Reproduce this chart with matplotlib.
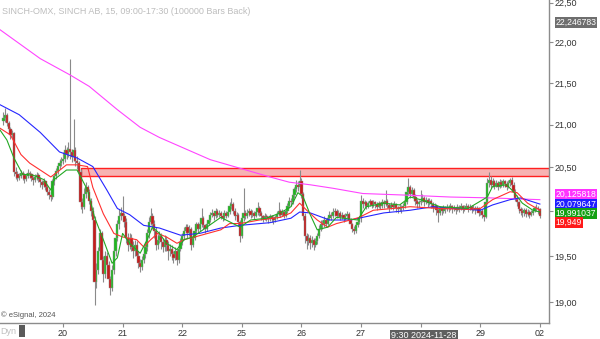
import numpy as np
import matplotlib
matplotlib.use('Agg')
import matplotlib.pyplot as plt
from matplotlib.ticker import FixedLocator, FuncFormatter, NullLocator
from matplotlib.transforms import blended_transform_factory

plt.rcParams['font.family'] = ['Liberation Sans', 'DejaVu Sans']

title = 'SINCH-OMX, SINCH AB, 15, 09:00-17:30 (100000 Bars Back)'

# sessions (15 min bars, 34 per session)
sessions = ['19', '20', '21', '22', '25', '26', '27', '28', '29', '02']
bars_per_day = 34
first_open = 21.05

# ---- closes, one row per half session ----
closes = [
    21.08, 21.12, 21.02, 20.95, 20.88, 20.90, 20.45, 20.42, 20.38, 20.40, 20.43, 20.41, 20.37, 20.40, 20.44, 20.42, 20.38,
    20.35, 20.39, 20.41, 20.37, 20.33, 20.30, 20.34, 20.28, 20.22, 20.18, 20.16, 20.34, 20.40, 20.46, 20.52, 20.55, 20.58,
    20.60, 20.70, 20.66, 20.72, 20.68, 20.62, 20.70, 20.58, 20.55, 20.45, 20.10, 20.05, 20.20, 20.28, 20.22, 20.12, 20.00,
    19.90, 19.22, 19.35, 19.55, 19.75, 19.45, 19.30, 19.50, 19.40, 19.25, 19.15, 19.35, 19.55, 19.70, 19.85, 19.95, 19.98,
    19.95, 19.88, 19.70, 19.62, 19.70, 19.60, 19.55, 19.62, 19.50, 19.42, 19.38, 19.45, 19.52, 19.60, 19.75, 19.88, 19.95,
    19.85, 19.78, 19.62, 19.68, 19.72, 19.65, 19.60, 19.68, 19.62, 19.55, 19.58, 19.52, 19.48, 19.55, 19.45, 19.58, 19.65,
    19.72, 19.78, 19.82, 19.75, 19.80, 19.62, 19.70, 19.78, 19.85, 19.80, 19.86, 19.92, 19.84, 19.80, 19.86, 19.90, 19.96,
    19.98, 19.94, 20.00, 19.96, 19.98, 19.95, 19.92, 19.98, 19.95, 19.99, 20.06, 20.08, 20.00, 19.94, 19.96, 19.88, 19.72,
    19.92, 19.98, 19.95, 19.98, 20.00, 19.96, 19.98, 19.95, 19.99, 20.04, 19.98, 19.94, 19.92, 19.95, 19.93, 19.91, 19.94,
    19.92, 19.90, 19.93, 19.97, 20.00, 19.96, 19.99, 19.95, 20.00, 20.06, 20.12, 20.10, 20.18, 20.25, 20.30, 20.28, 20.34,
    20.20, 19.95, 19.72, 19.66, 19.70, 19.64, 19.68, 19.62, 19.66, 19.72, 19.80, 19.86, 19.84, 19.90, 19.86, 19.92, 19.96,
    19.94, 19.99, 20.00, 19.95, 19.98, 19.93, 19.96, 19.92, 19.95, 19.97, 19.90, 19.85, 19.80, 19.78, 19.84, 19.88, 19.92,
    20.12, 20.08, 20.10, 20.06, 20.09, 20.11, 20.07, 20.10, 20.08, 20.05, 20.09, 20.06, 20.10, 20.08, 20.12, 20.07, 20.04,
    20.07, 20.05, 20.08, 20.04, 20.02, 20.05, 20.03, 20.06, 20.10, 20.22, 20.28, 20.20, 20.24, 20.16, 20.12, 20.08, 20.10,
    20.12, 20.15, 20.10, 20.13, 20.09, 20.12, 20.08, 20.04, 20.06, 20.01, 19.98, 20.03, 20.00, 20.04, 20.02, 20.05, 20.03,
    20.06, 20.02, 20.04, 20.01, 20.05, 20.03, 20.06, 20.02, 20.04, 20.06, 20.03, 20.05, 20.02, 20.04, 20.01, 20.03, 19.98,
    20.00, 19.96, 19.93, 20.10, 20.32, 20.36, 20.30, 20.34, 20.29, 20.32, 20.28, 20.33, 20.30, 20.34, 20.31, 20.28, 20.32,
    20.35, 20.30, 20.22, 20.15, 20.10, 20.02, 20.00, 19.98, 20.01, 19.97, 19.99, 19.96, 19.98, 20.00, 20.03, 20.04, 20.02,
    19.95,
]

highs = [
    21.15, 21.20, 21.14, 21.05, 20.97, 20.94, 20.92, 20.50, 20.46, 20.44, 20.47, 20.46, 20.43, 20.43, 20.48, 20.46, 20.44,
    20.40, 20.42, 20.45, 20.43, 20.39, 20.35, 20.38, 20.36, 20.30, 20.25, 20.22, 20.37, 20.44, 20.49, 20.55, 20.60, 20.62,
    20.68, 20.76, 20.74, 20.80, 21.80, 20.72, 21.07, 20.74, 20.63, 20.58, 20.48, 20.15, 20.26, 20.33, 20.30, 20.25, 20.15,
    20.05, 19.95, 19.42, 19.60, 19.80, 19.78, 19.50, 19.56, 19.54, 19.44, 19.28, 19.40, 19.60, 19.75, 19.90, 20.02, 20.05,
    20.17, 19.98, 19.92, 19.75, 19.76, 19.74, 19.66, 19.68, 19.66, 19.55, 19.47, 19.50, 19.58, 19.65, 19.80, 19.93, 20.04,
    19.98, 19.90, 19.82, 19.74, 19.78, 19.76, 19.70, 19.73, 19.72, 19.66, 19.63, 19.62, 19.56, 19.60, 19.58, 19.63, 19.70,
    19.76, 19.82, 19.86, 19.85, 19.84, 19.82, 19.74, 19.82, 19.88, 19.88, 19.90, 20.03, 19.94, 19.86, 19.89, 19.93, 19.99,
    20.02, 20.00, 20.03, 20.02, 20.01, 20.00, 19.97, 20.01, 20.00, 20.03, 20.10, 20.15, 20.10, 20.03, 19.99, 19.98, 19.90,
    19.96, 20.26, 20.01, 20.02, 20.04, 20.02, 20.01, 20.00, 20.02, 20.10, 20.06, 20.00, 19.96, 19.98, 19.97, 19.95, 19.97,
    19.96, 19.94, 19.96, 20.00, 20.10, 20.02, 20.02, 20.01, 20.04, 20.09, 20.16, 20.15, 20.21, 20.28, 20.36, 20.34, 20.47,
    20.38, 20.22, 19.98, 19.76, 19.74, 19.73, 19.72, 19.70, 19.70, 19.76, 19.84, 19.90, 19.90, 19.94, 19.92, 19.95, 20.00,
    19.99, 20.03, 20.04, 20.02, 20.01, 20.00, 19.99, 19.97, 19.98, 20.00, 19.99, 19.92, 19.87, 19.83, 19.87, 19.91, 19.95,
    20.18, 20.15, 20.13, 20.12, 20.12, 20.14, 20.13, 20.13, 20.12, 20.10, 20.12, 20.10, 20.14, 20.13, 20.24, 20.14, 20.09,
    20.10, 20.09, 20.11, 20.09, 20.06, 20.08, 20.07, 20.09, 20.15, 20.26, 20.38, 20.30, 20.28, 20.26, 20.19, 20.14, 20.13,
    20.24, 20.19, 20.17, 20.16, 20.15, 20.15, 20.14, 20.10, 20.09, 20.08, 20.04, 20.06, 20.05, 20.07, 20.06, 20.08, 20.07,
    20.09, 20.07, 20.07, 20.05, 20.08, 20.07, 20.09, 20.07, 20.07, 20.09, 20.08, 20.08, 20.07, 20.07, 20.06, 20.06, 20.05,
    20.04, 20.02, 19.98, 20.14, 20.38, 20.45, 20.40, 20.38, 20.36, 20.36, 20.34, 20.37, 20.36, 20.37, 20.36, 20.34, 20.35,
    20.38, 20.39, 20.33, 20.25, 20.18, 20.12, 20.05, 20.03, 20.04, 20.03, 20.02, 20.01, 20.01, 20.03, 20.06, 20.08, 20.06,
    20.04,
]

lows = [
    21.00, 21.03, 20.98, 20.90, 20.83, 20.84, 20.40, 20.37, 20.34, 20.35, 20.38, 20.36, 20.32, 20.34, 20.38, 20.38, 20.34,
    20.30, 20.33, 20.36, 20.33, 20.28, 20.25, 20.27, 20.24, 20.18, 20.14, 20.12, 20.14, 20.30, 20.37, 20.42, 20.48, 20.52,
    20.54, 20.56, 20.60, 20.62, 20.60, 20.56, 20.58, 20.52, 20.48, 20.40, 20.02, 19.98, 20.02, 20.15, 20.16, 20.08, 19.95,
    19.85, 18.97, 19.15, 19.30, 19.50, 19.38, 19.22, 19.26, 19.33, 19.18, 19.07, 19.12, 19.30, 19.50, 19.66, 19.80, 19.90,
    19.90, 19.82, 19.64, 19.56, 19.58, 19.55, 19.48, 19.50, 19.45, 19.37, 19.32, 19.35, 19.42, 19.48, 19.55, 19.70, 19.84,
    19.80, 19.70, 19.57, 19.58, 19.64, 19.58, 19.54, 19.56, 19.56, 19.46, 19.50, 19.46, 19.42, 19.45, 19.40, 19.42, 19.55,
    19.62, 19.68, 19.75, 19.70, 19.72, 19.57, 19.60, 19.68, 19.76, 19.76, 19.78, 19.82, 19.80, 19.76, 19.78, 19.84, 19.88,
    19.93, 19.90, 19.92, 19.93, 19.93, 19.91, 19.89, 19.90, 19.92, 19.93, 19.97, 20.02, 19.97, 19.90, 19.91, 19.84, 19.65,
    19.70, 19.89, 19.91, 19.92, 19.95, 19.92, 19.93, 19.91, 19.93, 19.96, 19.94, 19.90, 19.88, 19.90, 19.89, 19.87, 19.89,
    19.88, 19.86, 19.88, 19.91, 19.94, 19.93, 19.94, 19.92, 19.93, 19.98, 20.04, 20.06, 20.08, 20.15, 20.22, 20.23, 20.25,
    20.15, 19.90, 19.64, 19.58, 19.62, 19.58, 19.60, 19.57, 19.60, 19.63, 19.70, 19.78, 19.80, 19.82, 19.83, 19.84, 19.90,
    19.90, 19.92, 19.95, 19.92, 19.93, 19.90, 19.91, 19.88, 19.90, 19.92, 19.87, 19.82, 19.77, 19.74, 19.76, 19.82, 19.86,
    19.88, 20.04, 20.05, 20.02, 20.04, 20.06, 20.03, 20.05, 20.04, 20.01, 20.03, 20.02, 20.04, 20.04, 20.06, 20.03, 19.99,
    20.02, 20.01, 20.03, 19.99, 19.98, 20.00, 19.98, 20.01, 20.04, 20.08, 20.18, 20.15, 20.17, 20.12, 20.07, 20.04, 20.05,
    20.07, 20.10, 20.06, 20.08, 20.05, 20.07, 20.04, 19.99, 20.02, 19.96, 19.88, 19.96, 19.96, 19.98, 19.98, 20.00, 19.99,
    20.01, 19.98, 20.00, 19.97, 20.00, 19.99, 20.01, 19.98, 20.00, 20.02, 19.99, 20.01, 19.98, 20.00, 19.97, 19.99, 19.94,
    19.96, 19.92, 19.89, 19.92, 20.08, 20.28, 20.26, 20.27, 20.25, 20.27, 20.24, 20.26, 20.27, 20.28, 20.27, 20.24, 20.26,
    20.29, 20.26, 20.18, 20.12, 20.06, 19.98, 19.96, 19.93, 19.95, 19.93, 19.95, 19.92, 19.94, 19.96, 19.99, 20.00, 19.97,
    19.92,
]

# ---- moving averages (bar index, price) ----
ma200_bar = [-2, 21, 38, 49, 65, 78, 89, 118, 135, 152, 163, 175, 188, 205, 232, 255, 278, 306]
ma200_val = [22.16, 21.80, 21.60, 21.46, 21.18, 20.97, 20.85, 20.59, 20.49, 20.39, 20.33, 20.30, 20.26, 20.20, 20.18,
             20.16, 20.15, 20.13]

ma50_bar = [-2, 9, 21, 32, 42, 51, 59, 65, 72, 80, 89, 101, 112, 124, 135, 152, 164, 169, 175, 186, 198, 205, 217,
            232, 245, 272, 279, 289, 295, 306]
ma50_val = [21.24, 21.12, 20.91, 20.68, 20.61, 20.51, 20.24, 20.03, 19.96, 19.84, 19.81, 19.73, 19.75, 19.81, 19.84,
            19.87, 19.92, 19.99, 19.98, 19.90, 19.90, 19.93, 19.98, 20.01, 20.05, 20.01, 20.07, 20.13, 20.15, 20.08]

ma20_bar = [-2, 4, 10, 15, 21, 27, 31, 36, 42, 48, 51, 57, 63, 68, 76, 80, 84, 88, 93, 99, 103, 111, 124, 129, 135,
            146, 158, 164, 169, 173, 179, 185, 190, 198, 203, 211, 222, 232, 249, 265, 272, 279, 289, 293, 299, 306]
ma20_val = [20.96, 20.88, 20.65, 20.55, 20.47, 20.39, 20.45, 20.53, 20.53, 20.51, 20.27, 19.97, 19.75, 19.71, 19.68,
            19.60, 19.68, 19.75, 19.71, 19.64, 19.68, 19.72, 19.79, 19.86, 19.86, 19.90, 19.93, 19.98, 20.09, 20.01,
            19.90, 19.82, 19.86, 19.90, 19.93, 20.01, 20.03, 20.05, 20.03, 20.02, 20.03, 20.13, 20.22, 20.21, 20.09,
            20.01]

ma10_bar = [-2, 2, 6, 11, 17, 23, 27, 29, 36, 42, 48, 52, 57, 62, 65, 68, 72, 78, 82, 85, 89, 93, 99, 103, 108, 116,
            124, 129, 135, 141, 150, 158, 164, 168, 171, 175, 179, 185, 190, 202, 207, 217, 226, 232, 238, 249, 265,
            276, 279, 287, 291, 296, 302, 306]
ma10_val = [20.94, 20.82, 20.61, 20.42, 20.41, 20.36, 20.24, 20.36, 20.47, 20.47, 20.24, 19.93, 19.68, 19.42, 19.48,
            19.75, 19.64, 19.53, 19.68, 19.82, 19.75, 19.64, 19.57, 19.68, 19.71, 19.82, 19.93, 19.88, 19.82, 19.90,
            19.92, 19.98, 20.05, 20.21, 20.16, 19.96, 19.79, 19.82, 19.93, 19.90, 20.05, 20.09, 20.07, 20.16, 20.13,
            20.05, 20.03, 20.16, 20.28, 20.30, 20.22, 20.09, 20.01, 19.99]

zone_low, zone_high = 20.40, 20.49
zone_start_bar = 44.5

# price tags on the right axis (stacked, so placed a bit apart)
tag_texts = ['22,246783', '20,125818', '20,079647', '19,991037', '19,949']
tag_values = [22.246783, 20.19, 20.08, 19.975, 19.872]
tag_colors = ['#6e6e6e', '#ff33ff', '#1f1fff', '#14a014', '#ff1a1a']

cursor_text = '9:30 2024-11-28'
cursor_bar = 240

# ---------------------------------------------------------------------------

closes = np.array(closes)
highs = np.array(highs)
lows = np.array(lows)
opens = np.concatenate([[first_open], closes[:-1]])
idx = np.arange(len(closes))

fig = plt.figure(figsize=(6.0, 3.39), dpi=100)
ax = fig.add_axes([0.0, 16 / 339, 549 / 600, 323 / 339])
ax.set_yscale('log')
ax.set_xlim(-1.94, 311.2)
ax.set_ylim(18.775, 22.534)

# resistance zone
ax.add_patch(plt.Rectangle((zone_start_bar, zone_low), 400, zone_high - zone_low,
                           facecolor='#f7b3b3', edgecolor='#ff2020', linewidth=1.0, zorder=1))

# candles
up = closes >= opens
ax.vlines(idx, lows, highs, color='#8a8a8a', linewidth=0.8, zorder=2)
bottoms = np.minimum(opens, closes)
heights = np.maximum(np.abs(closes - opens), 0.008)
ax.bar(idx[up], heights[up], bottom=bottoms[up], width=1.3, color='#1fb81f',
       edgecolor='#909090', linewidth=0.3, zorder=3)
ax.bar(idx[~up], heights[~up], bottom=bottoms[~up], width=1.3, color='#c41c1c',
       edgecolor='#909090', linewidth=0.3, zorder=3)

# moving averages
ax.plot(ma200_bar, ma200_val, color='#ff44ff', linewidth=0.8, zorder=4)
ax.plot(ma50_bar, ma50_val, color='#2626ff', linewidth=0.8, zorder=4)
ax.plot(ma20_bar, ma20_val, color='#ff3030', linewidth=0.8, zorder=4)
ax.plot(ma10_bar, ma10_val, color='#22a822', linewidth=0.8, zorder=4)

# axes styling
for side in ['left', 'top']:
    ax.spines[side].set_visible(False)
for side in ['right', 'bottom']:
    ax.spines[side].set_color('#8c8c8c')
    ax.spines[side].set_linewidth(1.0)


def price_label(v, _):
    # 20,00 sits behind the price tags
    if abs(v - 20.0) < 1e-6:
        return ''
    return f'{v:.2f}'.replace('.', ',')


ax.yaxis.tick_right()
ax.yaxis.set_minor_locator(NullLocator())
ax.yaxis.set_major_locator(FixedLocator([19.0, 19.5, 20.0, 20.5, 21.0, 21.5, 22.0, 22.5]))
ax.yaxis.set_major_formatter(FuncFormatter(price_label))
ax.tick_params(axis='y', length=3, width=0.8, color='#8c8c8c', labelsize=6.5,
               labelcolor='#333333', pad=1)

day_ticks = [k * bars_per_day for k in range(1, len(sessions))]
ax.set_xticks(day_ticks)
ax.set_xticklabels([s if s != '28' else '' for s in sessions[1:]])
ax.tick_params(axis='x', length=3, width=0.8, color='#8c8c8c', labelsize=6.5,
               labelcolor='#333333', pad=1.5)

# texts
fig.text(0.003, 0.978, title, fontsize=6.5, color='#bdbdbd', va='top', ha='left')
ax.text(0.002, 0.012, '\u00a9 eSignal, 2024', transform=ax.transAxes, fontsize=5.5,
        color='#555555', ha='left', va='bottom')
fig.text(0.0, 8 / 339, 'Dyn', fontsize=6.5, color='#c0c0c0', ha='left', va='center')
fig.text(22 / 600, 8 / 339, ' ', fontsize=6, ha='center', va='center',
         bbox=dict(boxstyle='square,pad=0.25', facecolor='#5a5a5a', edgecolor='none'))

trans = blended_transform_factory(ax.transData, ax.transAxes)
ax.text(cursor_bar, -0.025, cursor_text, transform=trans, fontsize=6.5, color='white',
        ha='center', va='top', zorder=10, clip_on=False,
        bbox=dict(boxstyle='square,pad=0.15', facecolor='#5f5f5f', edgecolor='none'))

ytrans = blended_transform_factory(ax.transAxes, ax.transData)
for txt, val, col in zip(tag_texts, tag_values, tag_colors):
    ax.text(1.012, val, txt, transform=ytrans, fontsize=6.2, color='white', ha='left',
            va='center', zorder=10, clip_on=False,
            bbox=dict(boxstyle='square,pad=0.1', facecolor=col, edgecolor='none'))

fig.savefig('out.png', dpi=100)
